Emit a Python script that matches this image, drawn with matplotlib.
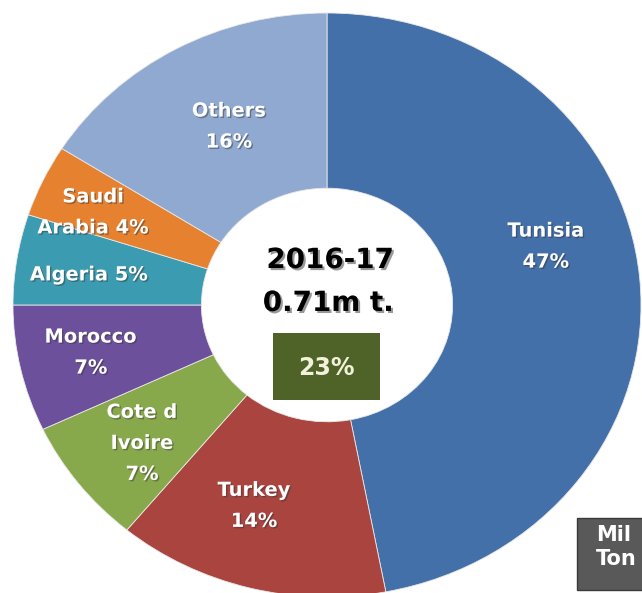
import matplotlib
matplotlib.use("Agg")
import matplotlib.pyplot as plt
import matplotlib.patheffects as pe
from matplotlib.patches import Rectangle

# shares by destination, clockwise from 12 o'clock
countries = ["Tunisia", "Turkey", "Cote d\nIvoire", "Morocco", "Algeria", "Saudi\nArabia", "Others"]
shares = [47, 14, 7, 7, 5, 4, 16]
colors = ["#4470a9", "#a9443f", "#88a94b", "#6d509c", "#3b9bb1", "#e5812f", "#8fa9d1"]
slice_labels = ["Tunisia\n47%", "Turkey\n14%", "Cote d\nIvoire\n7%", "Morocco\n7%",
                "Algeria 5%", "Saudi\nArabia 4%", "Others\n16%"]
center_year = "2016-17"
center_total = "0.71m t."
center_share = "23%"
unit_text = "Mil\nTon"

fig = plt.figure(figsize=(6.42, 5.93), dpi=100)
ax = fig.add_axes([0, 0, 1, 1])

wedges, _ = ax.pie(shares, colors=colors, startangle=90, counterclock=False,
                   radius=1.0, wedgeprops=dict(width=0.6, edgecolor="#e8e8e8", linewidth=0.6))

# slightly stretched horizontally like the original slide
ax.set_aspect("auto")
ax.set_xlim(-327 / 314, (642 - 327) / 314)
ax.set_ylim(1.0445 - 593 / 292, 1.0445)
ax.axis("off")

shadow = [pe.SimplePatchShadow(offset=(1, -1), shadow_rgbFace="#333333", alpha=0.45), pe.Normal()]

# label positions (axes data units)
label_xy = [(0.697, 0.20), (-0.232, -0.688), (-0.589, -0.474), (-0.752, -0.163),
            (-0.758, 0.103), (-0.745, 0.317), (-0.312, 0.611)]
for (x, y), txt in zip(label_xy, slice_labels):
    ax.text(x, y, txt, ha="center", va="center", color="white", fontsize=14,
            fontweight="bold", family="DejaVu Sans", linespacing=1.8, path_effects=shadow)

center_shadow = [pe.SimplePatchShadow(offset=(1.5, -1.5), shadow_rgbFace="#555555", alpha=0.6), pe.Normal()]
ax.text(0.01, 0.154, center_year, ha="center", va="center", fontsize=20, fontweight="bold",
        family="DejaVu Sans", color="black", path_effects=center_shadow)
ax.text(0.004, 0.007, center_total, ha="center", va="center", fontsize=20, fontweight="bold",
        family="DejaVu Sans", color="black", path_effects=center_shadow)
ax.add_patch(Rectangle((-0.172, -0.325), 0.342, 0.23, facecolor="#4f6228", edgecolor="none"))
ax.text(-0.003, -0.216, center_share, ha="center", va="center", fontsize=17, fontweight="bold",
        family="DejaVu Sans", color="#f2f2dc")

# cut-off unit box at bottom right
ax.add_patch(Rectangle(((577 - 327) / 314, 1.0445 - 590 / 292), 0.3, 72 / 292,
                       facecolor="#595959", edgecolor="#3a3a3a", linewidth=1, clip_on=False))
ax.text((596 - 327) / 314, 1.0445 - 547 / 292, unit_text, ha="left", va="center",
        fontsize=15, fontweight="bold", family="DejaVu Sans", color="white", linespacing=1.3)

fig.savefig("out.png", dpi=100)
